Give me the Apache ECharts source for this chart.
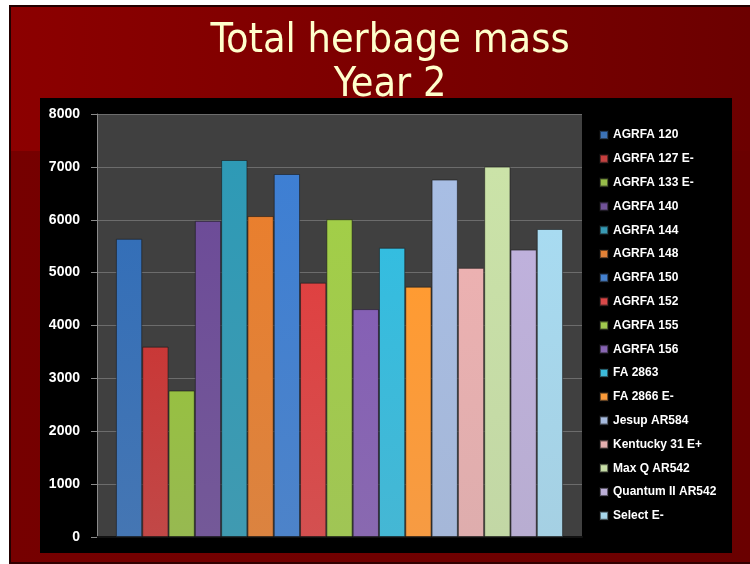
<!DOCTYPE html>
<html>
<head>
<meta charset="utf-8">
<script src="https://cdn.jsdelivr.net/npm/echarts@6/dist/echarts.min.js"></script>
<style>
  html, body { margin: 0; padding: 0; background: #fff; }
  #slide {
    position: absolute; left: 9px; top: 5px; width: 739px; height: 555px;
    border-top: 2px solid #200; border-left: 2px solid #200; border-bottom: 2px solid #300;
    background: linear-gradient(to right, #8c0000, #6c0000);
  }
  #lower {
    position: absolute; left: 0; top: 144px; right: 0; bottom: 0;
    background: linear-gradient(to right, #760000, #6a0000);
  }
  #chart { position: absolute; left: 0; top: 0; width: 750px; height: 564px; }
</style>
</head>
<body>
<div id="slide"><div id="lower"></div></div>
<div id="chart"></div>
<script>
// cultivars, one bar each
const cultivars = ['AGRFA 120', 'AGRFA 127 E-', 'AGRFA 133 E-', 'AGRFA 140', 'AGRFA 144',
  'AGRFA 148', 'AGRFA 150', 'AGRFA 152', 'AGRFA 155', 'AGRFA 156', 'FA 2863', 'FA 2866 E-',
  'Jesup AR584', 'Kentucky 31 E+', 'Max Q AR542', 'Quantum II AR542', 'Select E-']
const herbageMass = [5640, 3600, 2770, 5980, 7130, 6070, 6865, 4810, 6010, 4310, 5470, 4735,
  6760, 5090, 7005, 5435, 5825]
const yTicks = [0, 1000, 2000, 3000, 4000, 5000, 6000, 7000, 8000]

const barColors = ['#3167ab', '#bb3433', '#8cb23e', '#65478d', '#2b8fa9', '#d8762b',
  '#3a76c4', '#cf3d3d', '#96bf43', '#7c59a8', '#31afd0', '#f5902f',
  '#9cb0d4', '#dba4a4', '#bcd39c', '#b1a4cc', '#9ccbe0']

// lighter at the top, darker toward the floor (lift > 0 darkens)
function barFill(c) {
  return new echarts.graphic.LinearGradient(0, 0, 0, 1, [
    { offset: 0, color: echarts.color.lift(c, -0.08) },
    { offset: 1, color: echarts.color.lift(c, 0.1) }
  ])
}

const chart = echarts.init(document.getElementById('chart'), null, { renderer: 'canvas' })

chart.setOption({
  backgroundColor: 'transparent',
  animation: false,
  title: {
    text: 'Total herbage mass\nYear 2',
    left: 385,
    top: 14,
    textAlign: 'center',
    textStyle: {
      color: '#ffffcc',
      fontFamily: "'Liberation Sans Narrow', 'DejaVu Sans Condensed', sans-serif",
      fontWeight: 'normal',
      fontSize: 41,
      lineHeight: 44
    }
  },
  graphic: [{
    type: 'rect',
    z: -10,
    silent: true,
    shape: { x: 40, y: 98, width: 692, height: 455 },
    style: { fill: '#000' }
  }],
  grid: {
    left: 97,
    right: 168,
    top: 114,
    bottom: 27,
    show: true,
    backgroundColor: '#404040',
    borderWidth: 0
  },
  legend: {
    orient: 'vertical',
    left: 599,
    top: 128,
    padding: 0,
    itemWidth: 8,
    itemHeight: 8,
    itemGap: 9.8,
    icon: 'rect',
    data: cultivars,
    textStyle: {
      color: '#fff',
      fontFamily: "'Liberation Sans', Arial, sans-serif",
      fontWeight: 'bold',
      fontSize: 12,
      lineHeight: 14
    }
  },
  xAxis: {
    type: 'category',
    data: [''],
    axisLine: { show: true, lineStyle: { color: '#111', width: 2 } },
    axisTick: { show: false },
    axisLabel: { show: false }
  },
  yAxis: {
    type: 'value',
    min: yTicks[0],
    max: yTicks[yTicks.length - 1],
    interval: 1000,
    axisLine: { show: true, lineStyle: { color: '#8a8a8a' } },
    axisTick: { show: true, length: 6, lineStyle: { color: '#8a8a8a' } },
    splitLine: { lineStyle: { color: '#6c6c6c' } },
    axisLabel: {
      margin: 17,
      color: '#fff',
      fontFamily: "'Liberation Sans', Arial, sans-serif",
      fontWeight: 'bold',
      fontSize: 14,
      formatter: v => String(v)
    }
  },
  series: cultivars.map((name, i) => ({
    name: name,
    type: 'bar',
    barGap: '0%',
    barCategoryGap: '7.8%',
    data: [herbageMass[i]],
    itemStyle: {
      color: barFill(barColors[i]),
      borderColor: 'rgba(20,20,20,0.55)',
      borderWidth: 1
    }
  }))
})
</script>
</body>
</html>
